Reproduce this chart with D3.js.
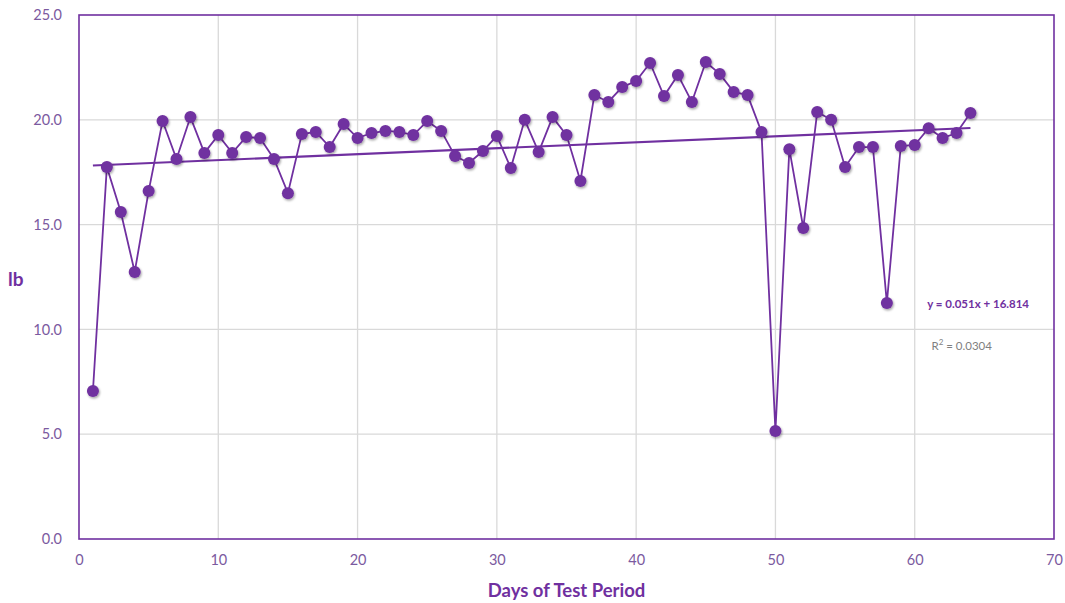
<!DOCTYPE html>
<html>
<head>
<meta charset="utf-8">
<script src="https://cdn.jsdelivr.net/npm/d3@7"></script>
<style>
	body { margin: 0; background: #fff; }
	text { font-family: Lato, "Open Sans", sans-serif; }
</style>
</head>
<body>
<svg id="container"></svg>
<script>
// days 1..64 and weight in lb
const days = d3.range(1, 65);
const weights = [
	7.06, 17.75, 15.6, 12.74, 16.6, 19.94, 18.13, 20.13, 18.42, 19.27,
	18.42, 19.18, 19.13, 18.13, 16.5, 19.32, 19.42, 18.7, 19.8, 19.13,
	19.37, 19.47, 19.42, 19.27, 19.94, 19.47, 18.27, 17.94, 18.51, 19.23,
	17.7, 20.0, 18.46, 20.13, 19.27, 17.08, 21.18, 20.85, 21.56, 21.85,
	22.71, 21.13, 22.14, 20.85, 22.76, 22.19, 21.33, 21.18, 19.42, 5.15,
	18.6, 14.84, 20.37, 20.0, 17.75, 18.7, 18.7, 11.26, 18.75, 18.8,
	19.6, 19.13, 19.37, 20.32
];
// trendline ends as drawn
const trendX = [1, 64];
const trendY = [17.82, 19.61];
const xTicks = [0, 10, 20, 30, 40, 50, 60, 70];
const yTicks = [0, 5, 10, 15, 20, 25];
const equation = "y = 0.051x + 16.814";
const rSquared = "0.0304";

const width = 1065, height = 603;
const margin = { top: 15, right: 11, bottom: 64, left: 79 };
const w = width - margin.left - margin.right,
	h = height - margin.top - margin.bottom;

const purple = "#7030a0";

var svg = d3.select("#container")
	.attr("width", width)
	.attr("height", height);

var defs = svg.append("defs");
var shadow = defs.append("filter").attr("id", "shadow")
	.attr("x", "-50%").attr("y", "-50%").attr("width", "200%").attr("height", "200%");
shadow.append("feDropShadow")
	.attr("dx", 1).attr("dy", 1.5).attr("stdDeviation", 1.2)
	.attr("flood-color", "#000").attr("flood-opacity", 0.35);

var g = svg.append("g")
	.attr("transform", "translate(" + margin.left + "," + margin.top + ")");

var x = d3.scaleLinear().domain([0, 70]).range([0, w]);
var y = d3.scaleLinear().domain([0, 25]).range([h, 0]);

// gridlines
g.append("g")
	.selectAll("line.gx")
	.data(xTicks.slice(1, -1))
	.enter().append("line")
	.attr("x1", d => x(d)).attr("x2", d => x(d))
	.attr("y1", 0).attr("y2", h)
	.attr("stroke", "#d9d9d9").attr("stroke-width", 1.3);

g.append("g")
	.selectAll("line.gy")
	.data(yTicks.slice(1, -1))
	.enter().append("line")
	.attr("x1", 0).attr("x2", w)
	.attr("y1", d => y(d)).attr("y2", d => y(d))
	.attr("stroke", "#d9d9d9").attr("stroke-width", 1.3);

// axes
var xAxis = d3.axisBottom(x).tickValues(xTicks).tickSize(0).tickPadding(16)
	.tickFormat(d3.format("d"));
var gX = g.append("g")
	.attr("transform", "translate(0," + h + ")")
	.call(xAxis);

var yAxis = d3.axisLeft(y).tickValues(yTicks).tickSize(0).tickPadding(17)
	.tickFormat(d3.format(".1f"));
var gY = g.append("g").call(yAxis);

[gX, gY].forEach(a => {
	a.select(".domain").remove();
	a.selectAll(".tick text")
		.attr("fill", "#7b5aa0")
		.style("font-size", "14.5px")
		.style("font-family", "Lato, sans-serif");
});

// plot border
g.append("rect")
	.attr("width", w).attr("height", h)
	.attr("fill", "none")
	.attr("stroke", purple)
	.attr("stroke-width", 1.6);

// trendline
g.append("line")
	.attr("x1", x(trendX[0])).attr("y1", y(trendY[0]))
	.attr("x2", x(trendX[1])).attr("y2", y(trendY[1]))
	.attr("stroke", purple).attr("stroke-width", 2.2);

// series line
var line = d3.line()
	.x((d, i) => x(days[i]))
	.y(d => y(d));

g.append("path")
	.datum(weights)
	.attr("d", line)
	.attr("fill", "none")
	.attr("stroke", purple)
	.attr("stroke-width", 1.8);

// markers
g.selectAll(".dot")
	.data(weights)
	.enter().append("circle")
	.attr("class", "dot")
	.attr("cx", (d, i) => x(days[i]))
	.attr("cy", d => y(d))
	.attr("r", 6)
	.attr("fill", purple)
	.attr("filter", "url(#shadow)");

// equation labels
g.append("text")
	.attr("x", x(60.9)).attr("y", y(11.0))
	.attr("fill", purple)
	.style("font-size", "11.5px")
	.style("font-weight", "bold")
	.text(equation);

var r2 = g.append("text")
	.attr("x", x(61.2)).attr("y", y(9.0))
	.attr("fill", "#7f7f7f")
	.style("font-size", "11.5px");
r2.append("tspan").text("R");
r2.append("tspan").attr("dy", -5).style("font-size", "8px").text("2");
r2.append("tspan").attr("dy", 5).text(" = " + rSquared);

// axis titles
svg.append("text")
	.attr("x", margin.left + x(35))
	.attr("y", 597)
	.attr("text-anchor", "middle")
	.attr("fill", purple)
	.style("font-size", "18.5px")
	.style("font-weight", "bold")
	.text("Days of Test Period");

svg.append("text")
	.attr("x", 8)
	.attr("y", 286)
	.attr("fill", purple)
	.style("font-size", "19px")
	.style("font-weight", "bold")
	.text("lb");
</script>
</body>
</html>
